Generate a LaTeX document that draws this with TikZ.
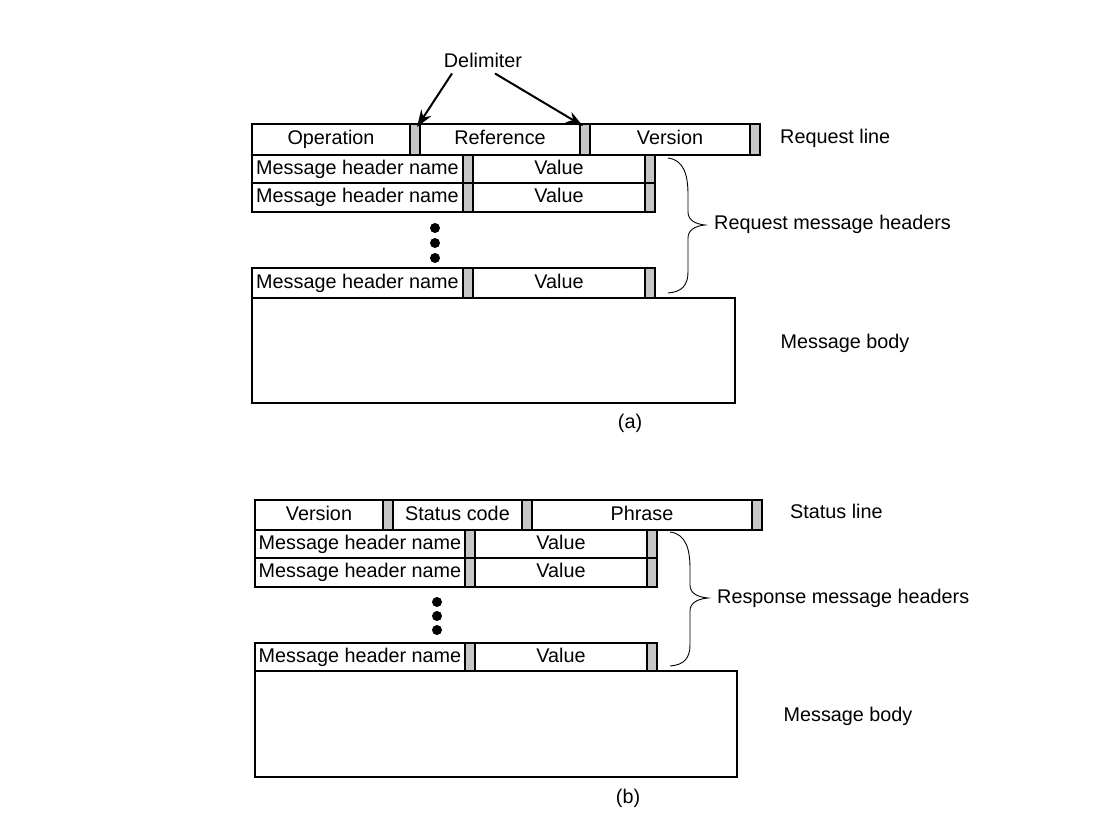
\documentclass[tikz,border=0pt]{standalone}
\usepackage{fontspec}
\setmainfont{Liberation Sans}
\usetikzlibrary{arrows.meta}
\begin{document}
\begin{tikzpicture}[x=1pt,y=-1pt,
  cell/.style={draw, line width=1.4pt, anchor=north west, inner sep=0pt, outer sep=0pt,
    font=\fontsize{19.8}{23}\selectfont, text height=14pt, text depth=4pt},
  delim/.style={cell, fill=gray!45},
  lbl/.style={font=\fontsize{19.8}{23}\selectfont, inner sep=0pt},
  arr/.style={line width=2pt, -{Stealth[length=17pt,width=12pt]}},
  brc/.style={line width=0.9pt},
  dot/.style={circle, fill=black, inner sep=0pt, minimum size=10pt}]
\useasboundingbox (0,0) rectangle (1114,838);

% ---------- (a) ----------
\node[cell, minimum width=158, minimum height=31] (aop) at (252,124) {Operation};
\node[delim, minimum width=10, minimum height=31] (ad1) at (410,124) {};
\node[cell, minimum width=160, minimum height=31] (aref) at (420,124) {Reference};
\node[delim, minimum width=10, minimum height=31] (ad2) at (580,124) {};
\node[cell, minimum width=160, minimum height=31] (aver) at (590,124) {Version};
\node[delim, minimum width=10, minimum height=31] (ad3) at (750,124) {};
\node[lbl, anchor=west] (areq) at (780,138) {Request line};

\node[cell, minimum width=211, minimum height=28] (ah1n) at (252,155) {Message header name};
\node[delim, minimum width=10, minimum height=28] (ah1d) at (463,155) {};
\node[cell, minimum width=172, minimum height=28] (ah1v) at (473,155) {Value};
\node[delim, minimum width=10, minimum height=28] (ah1e) at (645,155) {};

\node[cell, minimum width=211, minimum height=29] (ah2n) at (252,183) {Message header name};
\node[delim, minimum width=10, minimum height=29] (ah2d) at (463,183) {};
\node[cell, minimum width=172, minimum height=29] (ah2v) at (473,183) {Value};
\node[delim, minimum width=10, minimum height=29] (ah2e) at (645,183) {};

\node[dot] (adot1) at (435,228) {};
\node[dot] (adot2) at (435,243) {};
\node[dot] (adot3) at (435,258) {};

\node[cell, minimum width=211, minimum height=30] (ah3n) at (252,268) {Message header name};
\node[delim, minimum width=10, minimum height=30] (ah3d) at (463,268) {};
\node[cell, minimum width=172, minimum height=30] (ah3v) at (473,268) {Value};
\node[delim, minimum width=10, minimum height=30] (ah3e) at (645,268) {};

\node[cell, minimum width=483, minimum height=105] (abody) at (252,298) {};
\node[lbl] (abodyl) at (845,343) {Message body};
\node[lbl] (acap) at (630,423) {(a)};

\node[lbl] (adel) at (483,60) {Delimiter};
\draw[arr] ([xshift=-31pt,yshift=-6pt]adel.south) -- ([xshift=2pt,yshift=-3pt]ad1.north);
\draw[arr] ([xshift=12pt,yshift=-6pt]adel.south) -- ([xshift=-2pt,yshift=-2pt]ad2.north);

\draw[brc] (668,158) .. controls (684,160) and (688,175) .. (688,195) -- (688,212)
  .. controls (688,220) and (695,224) .. (705,225)
  .. controls (695,226) and (688,230) .. (688,238) -- (688,272)
  .. controls (688,285) and (682,292) .. (668,293);
\node[lbl, anchor=west] (ahdr) at (714,224) {Request message headers};

% ---------- (b) ----------
\node[cell, minimum width=128, minimum height=30] (bver) at (255,500) {Version};
\node[delim, minimum width=10, minimum height=30] (bd1) at (383,500) {};
\node[cell, minimum width=129, minimum height=30] (bsc) at (393,500) {Status code};
\node[delim, minimum width=10, minimum height=30] (bd2) at (522,500) {};
\node[cell, minimum width=220, minimum height=30] (bphr) at (532,500) {Phrase};
\node[delim, minimum width=10, minimum height=30] (bd3) at (752,500) {};
\node[lbl, anchor=west] (bstat) at (790,511) {Status line};

\node[cell, minimum width=210, minimum height=28] (bh1n) at (255,530) {Message header name};
\node[delim, minimum width=10, minimum height=28] (bh1d) at (465,530) {};
\node[cell, minimum width=172, minimum height=28] (bh1v) at (475,530) {Value};
\node[delim, minimum width=10, minimum height=28] (bh1e) at (647,530) {};

\node[cell, minimum width=210, minimum height=29] (bh2n) at (255,558) {Message header name};
\node[delim, minimum width=10, minimum height=29] (bh2d) at (465,558) {};
\node[cell, minimum width=172, minimum height=29] (bh2v) at (475,558) {Value};
\node[delim, minimum width=10, minimum height=29] (bh2e) at (647,558) {};

\node[dot] (bdot1) at (437,602) {};
\node[dot] (bdot2) at (437,616) {};
\node[dot] (bdot3) at (437,630) {};

\node[cell, minimum width=210, minimum height=28] (bh3n) at (255,643) {Message header name};
\node[delim, minimum width=10, minimum height=28] (bh3d) at (465,643) {};
\node[cell, minimum width=172, minimum height=28] (bh3v) at (475,643) {Value};
\node[delim, minimum width=10, minimum height=28] (bh3e) at (647,643) {};

\node[cell, minimum width=482, minimum height=106] (bbody) at (255,671) {};
\node[lbl] (bbodyl) at (848,716) {Message body};
\node[lbl] (bcap) at (628,798) {(b)};

\draw[brc] (670,532) .. controls (686,534) and (690,549) .. (690,569) -- (690,585)
  .. controls (690,593) and (697,597) .. (708,598)
  .. controls (697,599) and (690,603) .. (690,611) -- (690,645)
  .. controls (690,658) and (684,665) .. (670,666);
\node[lbl, anchor=west] (bhdr) at (717,598) {Response message headers};
\end{tikzpicture}
\end{document}
